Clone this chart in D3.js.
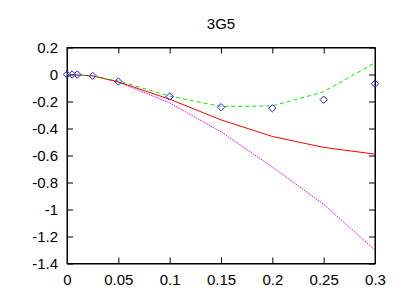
<!DOCTYPE html>
<html><head><meta charset="utf-8">
<script src="https://cdn.jsdelivr.net/npm/d3@7"></script>
<style>html,body{margin:0;padding:0;background:#fff;} svg{display:block;font-family:"Liberation Sans",Arial,sans-serif;}</style>
</head><body>
<svg id="c" width="402" height="296"></svg>
<script>
const title = "3G5";
const xTicks = [0, 0.05, 0.1, 0.15, 0.2, 0.25, 0.3];
const xTickLabels = ["0", "0.05", "0.1", "0.15", "0.2", "0.25", "0.3"];
const yTicks = [0.2, 0, -0.2, -0.4, -0.6, -0.8, -1, -1.2, -1.4];
const yTickLabels = ["0.2", "0", "-0.2", "-0.4", "-0.6", "-0.8", "-1", "-1.2", "-1.4"];

const pointX = [0, 0.005, 0.01, 0.025, 0.05, 0.1, 0.15, 0.2, 0.25, 0.3];
const pointY = [0, 0, 0, -0.01, -0.052, -0.163, -0.242, -0.25, -0.187, -0.069];

const lineX = [0, 0.025, 0.05, 0.1, 0.15, 0.2, 0.25, 0.3];
const greenY = [0, -0.01, -0.048, -0.16, -0.237, -0.233, -0.128, 0.087];
const redY = [0, -0.01, -0.055, -0.183, -0.336, -0.459, -0.54, -0.59];
const magentaY = [0, -0.01, -0.056, -0.21, -0.425, -0.685, -0.962, -1.3];

const svg = d3.select("#c");
const L = 67, R = 375, T = 47.5, B = 263.5;
const x = d3.scaleLinear().domain([0, 0.3]).range([L, R]);
const y = d3.scaleLinear().domain([-1.4, 0.2]).range([B, T]);
const fs = 15;

// title
svg.append("text").attr("x", (L + R) / 2).attr("y", 28.5).attr("text-anchor", "middle")
  .attr("font-size", fs).attr("fill", "#000").text(title);

// axes with inward ticks
const tl = 6;
const gB = svg.append("g").attr("transform", `translate(0,${B})`)
  .call(d3.axisBottom(x).tickValues(xTicks).tickSizeInner(-tl).tickSizeOuter(0).tickFormat((d, i) => xTickLabels[i]));
gB.selectAll("text").attr("y", 21.5).attr("dy", null).attr("font-size", fs).attr("font-family", null).attr("fill", "#000");
const gT = svg.append("g").attr("transform", `translate(0,${T})`)
  .call(d3.axisTop(x).tickValues(xTicks).tickSizeInner(-tl).tickSizeOuter(0).tickFormat(""));
const gL = svg.append("g").attr("transform", `translate(${L},0)`)
  .call(d3.axisLeft(y).tickValues(yTicks).tickSizeInner(-tl).tickSizeOuter(0).tickFormat((d, i) => yTickLabels[i]));
gL.selectAll("text").attr("x", -9).attr("dy", "0.36em").attr("font-size", fs).attr("font-family", null).attr("fill", "#000");
const gR = svg.append("g").attr("transform", `translate(${R},0)`)
  .call(d3.axisRight(y).tickValues(yTicks).tickSizeInner(-tl).tickSizeOuter(0).tickFormat(""));
[gB, gT, gL, gR].forEach(g => {
  g.select(".domain").attr("stroke", "#000");
  g.selectAll(".tick line").attr("stroke", "#000");
});
svg.append("rect").attr("x", L).attr("y", T).attr("width", R - L).attr("height", B - T)
  .attr("fill", "none").attr("stroke", "#000").attr("stroke-width", 1);

const line = d3.line().x(d => x(d[0])).y(d => y(d[1]));
const mk = ys => lineX.map((v, i) => [v, ys[i]]);

svg.append("path").attr("d", line(mk(magentaY))).attr("fill", "none")
  .attr("stroke", "#ff00ff").attr("stroke-width", 1).attr("stroke-dasharray", "1.5,1");
svg.append("path").attr("d", line(mk(redY))).attr("fill", "none")
  .attr("stroke", "#ff0000").attr("stroke-width", 1);
svg.append("path").attr("d", line(mk(greenY))).attr("fill", "none")
  .attr("stroke", "#00ee00").attr("stroke-width", 1).attr("stroke-dasharray", "4,3");

const sym = d3.symbol().type(d3.symbolDiamond2).size(34);
svg.append("g").selectAll("path").data(pointX.map((v, i) => [v, pointY[i]])).join("path")
  .attr("transform", d => `translate(${x(d[0])},${y(d[1])})`)
  .attr("d", sym).attr("fill", "none").attr("stroke", "#1a1aff").attr("stroke-width", 1);
</script>
</body></html>
